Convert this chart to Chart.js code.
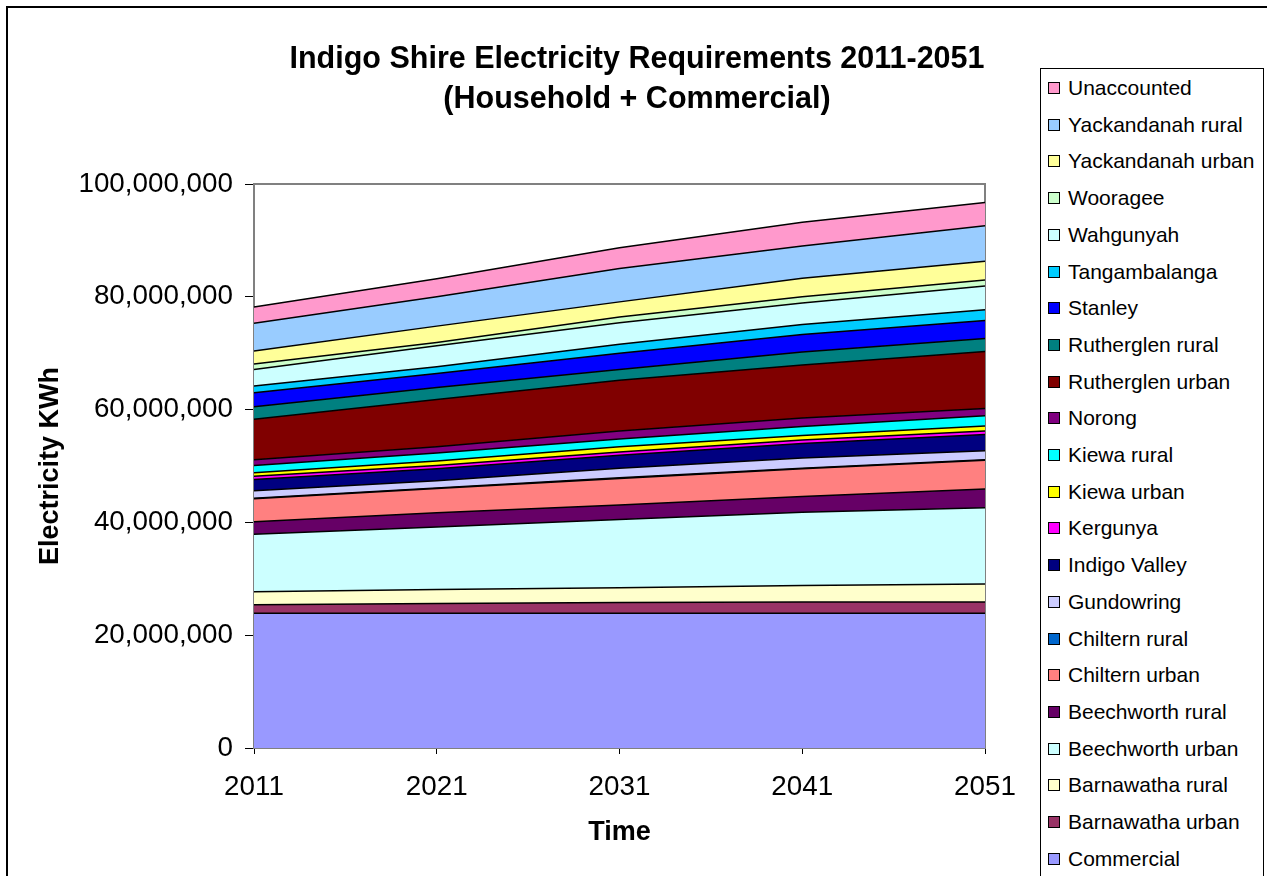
<!DOCTYPE html>
<html>
<head>
<meta charset="utf-8">
<script src="https://cdn.jsdelivr.net/npm/chart.js@4.4.1/dist/chart.umd.min.js"></script>
<style>
  body { margin: 0; background: #fff; font-family: "Liberation Sans", Arial, sans-serif; overflow: hidden; }
  #frame { position: absolute; left: 6px; top: 6px; width: 1400px; height: 1000px; border: 2px solid #000; }
  #wrap { position: absolute; left: 0; top: 0; width: 1267px; height: 876px; }
  #title { position: absolute; left: 237px; width: 800px; top: 37px; text-align: center;
           font-weight: bold; font-size: 30.5px; line-height: 40px; color: #000; white-space: nowrap; }
  #legend { position: absolute; left: 1040px; top: 68px; width: 222px; height: 900px; border: 1px solid #000; background: #fff; }
  .item { position: absolute; left: 7px; height: 24px; font-size: 21px; line-height: 24px; white-space: nowrap; }
  .item span.box { position: absolute; left: 0; top: 6px; width: 10px; height: 10px; border: 1px solid #000; }
  .item span.lbl { position: absolute; left: 20px; top: 0; }
</style>
</head>
<body>
<div id="frame"></div>
<div id="wrap"><canvas id="myChart" width="1267" height="876"></canvas></div>
<div id="title">Indigo Shire Electricity Requirements 2011-2051<br>(Household + Commercial)</div>
<div id="legend"></div>
<script>
// years on the x axis
const years = ["2011", "2021", "2031", "2041", "2051"];

// kWh per area, bottom of the stack first
const commercial      = [23900000, 23900000, 23900000, 23900000, 23900000];
const barnawathaUrban = [1500000, 1700000, 1900000, 2000000, 2000000];
const barnawathaRural = [2300000, 2500000, 2600000, 2900000, 3200000];
const beechworthUrban = [10200000, 11100000, 12100000, 13000000, 13500000];
const beechworthRural = [2200000, 2500000, 2600000, 2800000, 3300000];
const chilternUrban   = [4100000, 4300000, 4700000, 4900000, 5100000];
const chilternRural   = [100000, 100000, 100000, 100000, 100000];
const gundowring      = [1300000, 1300000, 1700000, 1800000, 1600000];
const indigoValley    = [2000000, 2100000, 2300000, 2600000, 2900000];
const kergunya        = [600000, 600000, 600000, 600000, 600000];
const kiewaUrban      = [600000, 800000, 900000, 800000, 900000];
const kiewaRural      = [1300000, 1400000, 1400000, 1600000, 1800000];
const norong          = [1000000, 1100000, 1400000, 1500000, 1300000];
const rutherglenUrban = [7200000, 8400000, 9000000, 9400000, 10100000];
const rutherglenRural = [2200000, 2100000, 1900000, 2300000, 2300000];
const stanley         = [2500000, 2500000, 2900000, 3100000, 3200000];
const tangambalanga   = [1200000, 1200000, 1600000, 1800000, 1900000];
const wahgunyah       = [2900000, 3700000, 3800000, 3800000, 4200000];
const wooragee        = [1000000, 600000, 1000000, 1100000, 1100000];
const yackUrban       = [2300000, 2900000, 2700000, 3300000, 3300000];
const yackRural       = [4900000, 5200000, 5900000, 5700000, 6300000];
const unaccounted     = [2900000, 3200000, 3700000, 4200000, 4100000];

const seriesNames = ["Commercial", "Barnawatha urban", "Barnawatha rural", "Beechworth urban", "Beechworth rural",
  "Chiltern urban", "Chiltern rural", "Gundowring", "Indigo Valley", "Kergunya", "Kiewa urban", "Kiewa rural",
  "Norong", "Rutherglen urban", "Rutherglen rural", "Stanley", "Tangambalanga", "Wahgunyah", "Wooragee",
  "Yackandanah urban", "Yackandanah rural", "Unaccounted"];
const seriesData = [commercial, barnawathaUrban, barnawathaRural, beechworthUrban, beechworthRural,
  chilternUrban, chilternRural, gundowring, indigoValley, kergunya, kiewaUrban, kiewaRural,
  norong, rutherglenUrban, rutherglenRural, stanley, tangambalanga, wahgunyah, wooragee,
  yackUrban, yackRural, unaccounted];
const seriesColors = ["#9999FF", "#993366", "#FFFFCC", "#CCFFFF", "#660066",
  "#FF8080", "#0066CC", "#CCCCFF", "#000080", "#FF00FF", "#FFFF00", "#00FFFF",
  "#800080", "#800000", "#008080", "#0000FF", "#00CCFF", "#CCFFFF", "#CCFFCC",
  "#FFFF99", "#99CCFF", "#FF99CC"];

const fontFamily = '"Liberation Sans", Arial, sans-serif';

// gray box round the plot area
const plotBox = {
  id: "plotBox",
  beforeDatasetsDraw(chart) {
    const a = chart.chartArea, ctx = chart.ctx;
    ctx.save();
    ctx.strokeStyle = "#808080";
    ctx.lineWidth = 2;
    ctx.strokeRect(a.left, a.top, a.right - a.left, a.bottom - a.top);
    ctx.restore();
  }
};

const datasets = seriesData.map((d, i) => ({
  label: seriesNames[i],
  data: d,
  backgroundColor: seriesColors[i],
  borderColor: "#000",
  borderWidth: 1.5,
  pointRadius: 0,
  tension: 0,
  fill: i === 0 ? "origin" : "-1"
}));

new Chart(document.getElementById("myChart").getContext("2d"), {
  type: "line",
  data: { labels: years, datasets: datasets },
  plugins: [plotBox],
  options: {
    responsive: false,
    animation: false,
    layout: { padding: { top: 184, right: 282, left: 10, bottom: 0 } },
    plugins: { legend: { display: false }, tooltip: { enabled: false }, title: { display: false } },
    scales: {
      x: {
        offset: false,
        grid: { drawOnChartArea: false, drawTicks: true, tickLength: 6, color: "#000" },
        border: { color: "#000", width: 2 },
        ticks: { color: "#000", font: { family: fontFamily, size: 27.8 }, padding: 17, maxRotation: 0 },
        title: { display: true, text: "Time", color: "#000", font: { family: fontFamily, size: 27, weight: "bold" }, padding: { top: 4, bottom: 27 } },
        afterFit(scale) { scale.height = 128; }
      },
      y: {
        stacked: true,
        min: 0,
        max: 100000000,
        grid: { drawOnChartArea: false, drawTicks: true, tickLength: 9, color: "#000" },
        border: { color: "#000", width: 2 },
        ticks: {
          stepSize: 20000000,
          color: "#000",
          padding: 12,
          font: { family: fontFamily, size: 27.8 },
          callback: v => v.toLocaleString("en-US")
        },
        title: { display: true, text: "Electricity KWh", color: "#000", font: { family: fontFamily, size: 27, weight: "bold" }, padding: { top: 24, bottom: 0 } },
        afterFit(scale) { scale.width = 244; }
      }
    }
  }
});

// legend box, top of the stack first
const legend = document.getElementById("legend");
for (let i = seriesNames.length - 1, row = 0; i >= 0; i--, row++) {
  const item = document.createElement("div");
  item.className = "item";
  item.style.top = (87 - 68 - 12 + row * 36.7) + "px";
  item.innerHTML = '<span class="box" style="background:' + seriesColors[i] + '"></span><span class="lbl">' + seriesNames[i] + "</span>";
  legend.appendChild(item);
}
</script>
</body>
</html>
